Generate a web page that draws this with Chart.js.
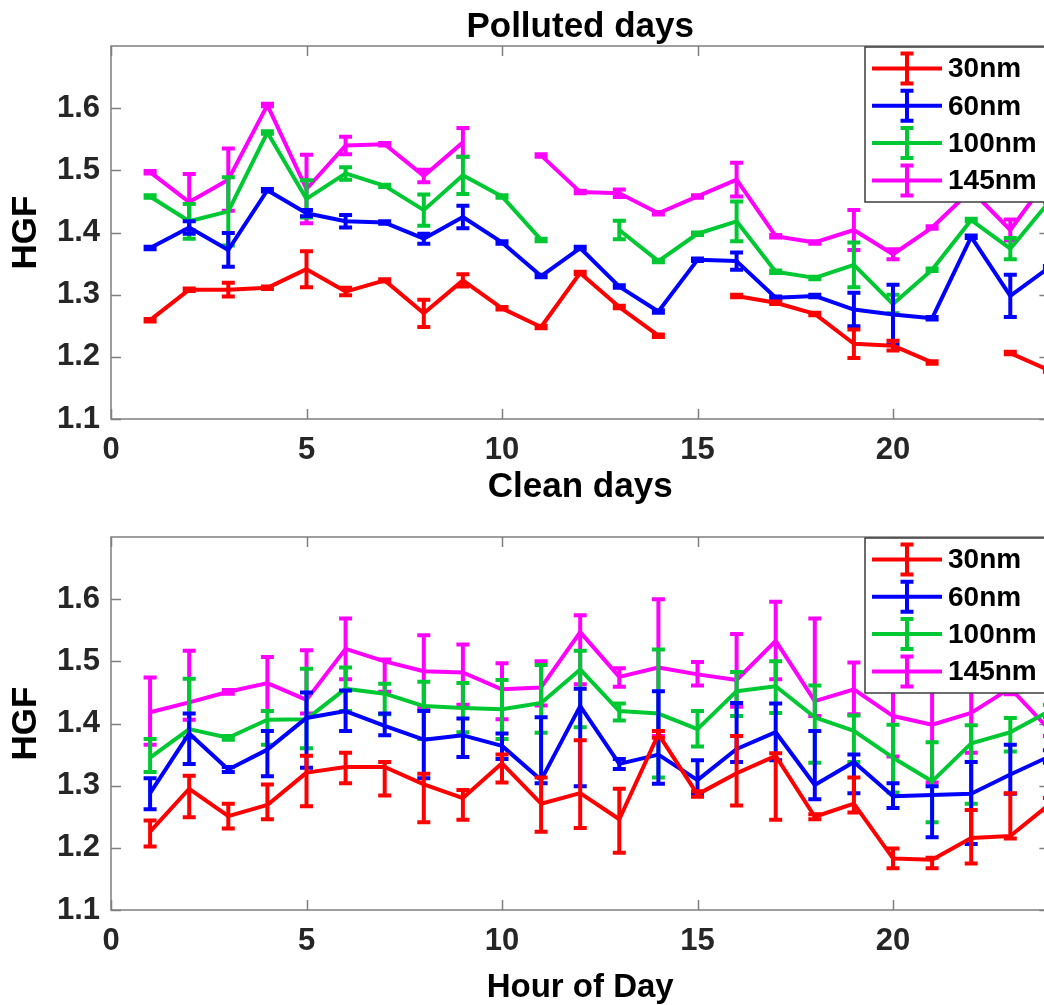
<!DOCTYPE html>
<html>
<head>
<meta charset="utf-8">
<script src="https://cdn.jsdelivr.net/npm/chart.js@4.4.0/dist/chart.umd.min.js"></script>
<style>
  html, body { margin: 0; padding: 0; background: #fff; overflow: hidden; }
  #wrap { position: relative; width: 1060px; height: 1005px; }
  .panel { position: absolute; left: 0; width: 1060px; }
  #top { top: 0; height: 470px; }
  #bottom { top: 460px; height: 545px; }
</style>
</head>
<body>
<div id="wrap">
  <div class="panel" id="top"><canvas id="polluted"></canvas></div>
  <div class="panel" id="bottom"><canvas id="clean"></canvas></div>
</div>
<script>
const hours = [1, 2, 3, 4, 5, 6, 7, 8, 9, 10, 11, 12, 13, 14, 15, 16, 17, 18, 19, 20, 21, 22, 23, 24];
const sizeLabels = ['30nm', '60nm', '100nm', '145nm'];
const lineColors = ['#ff0000', '#0000ff', '#00c832', '#ff00ff'];
const xTickValues = [0, 5, 10, 15, 20];
const yTickValues = [1.1, 1.2, 1.3, 1.4, 1.5, 1.6];

// polluted days: mean HGF and symmetric error
const polluted30 = [1.259, 1.308, 1.308, 1.311, 1.341, 1.305, 1.323, 1.270, 1.323, 1.278, 1.248, 1.335, 1.280, 1.234, null, 1.298, 1.287, 1.269, 1.221, 1.218, 1.191, null, 1.206, 1.178];
const polluted30Err = [0.002, 0.002, 0.011, 0.002, 0.029, 0.006, 0.002, 0.022, 0.010, 0.002, 0.002, 0.002, 0.002, 0.002, null, 0.002, 0.002, 0.002, 0.023, 0.008, 0.002, null, 0.002, 0.002];
const polluted60 = [1.375, 1.408, 1.372, 1.468, 1.431, 1.418, 1.416, 1.390, 1.425, 1.384, 1.330, 1.375, 1.313, 1.273, 1.356, 1.354, 1.295, 1.298, 1.276, 1.268, 1.262, 1.393, 1.298, 1.344];
const polluted60Err = [0.002, 0.010, 0.027, 0.002, 0.005, 0.010, 0.002, 0.008, 0.018, 0.002, 0.002, 0.002, 0.002, 0.002, 0.002, 0.014, 0.002, 0.002, 0.027, 0.048, 0.002, 0.002, 0.034, 0.002];
const polluted100 = [1.458, 1.418, 1.434, 1.561, 1.454, 1.495, 1.475, 1.436, 1.492, 1.458, 1.388, null, 1.404, 1.354, 1.398, 1.418, 1.337, 1.327, 1.348, 1.285, 1.340, 1.420, 1.374, 1.450];
const polluted100Err = [0.002, 0.028, 0.055, 0.002, 0.030, 0.010, 0.002, 0.025, 0.030, 0.002, 0.002, null, 0.015, 0.002, 0.002, 0.032, 0.002, 0.002, 0.036, 0.015, 0.002, 0.002, 0.017, 0.002];
const polluted145 = [1.497, 1.449, 1.485, 1.605, 1.470, 1.540, 1.542, 1.491, 1.545, null, 1.524, 1.465, 1.463, 1.431, 1.458, 1.485, 1.394, 1.384, 1.404, 1.365, 1.408, 1.468, 1.404, 1.490];
const polluted145Err = [0.002, 0.045, 0.050, 0.002, 0.055, 0.014, 0.002, 0.010, 0.023, null, 0.002, 0.002, 0.006, 0.002, 0.002, 0.027, 0.002, 0.002, 0.032, 0.008, 0.002, 0.002, 0.017, 0.002];

// clean days: mean HGF with lower / upper error
const clean30 = [1.226, 1.295, 1.251, 1.269, 1.321, 1.330, 1.330, 1.302, 1.280, 1.336, 1.271, 1.288, 1.246, 1.383, 1.286, 1.320, 1.348, 1.250, 1.271, 1.183, 1.181, 1.216, 1.219, 1.270];
const clean30Low = [0.024, 0.046, 0.020, 0.023, 0.054, 0.026, 0.046, 0.061, 0.035, 0.031, 0.045, 0.056, 0.054, 0.006, 0.004, 0.052, 0.103, 0.004, 0.014, 0.016, 0.014, 0.041, 0.004, 0.010];
const clean30High = [0.018, 0.021, 0.020, 0.033, 0.027, 0.023, 0.008, 0.017, 0.013, 0.014, 0.042, 0.085, 0.049, 0.005, 0.005, 0.060, 0.004, 0.004, 0.042, 0.016, 0.003, 0.045, 0.069, 0.010];
const clean60 = [1.288, 1.384, 1.326, 1.358, 1.409, 1.420, 1.396, 1.374, 1.381, 1.364, 1.309, 1.428, 1.335, 1.350, 1.309, 1.359, 1.386, 1.301, 1.338, 1.283, 1.285, 1.287, 1.318, 1.347];
const clean60Low = [0.026, 0.049, 0.004, 0.043, 0.080, 0.032, 0.015, 0.062, 0.035, 0.021, 0.005, 0.129, 0.008, 0.047, 0.021, 0.021, 0.045, 0.023, 0.050, 0.019, 0.068, 0.081, 0.031, 0.010];
const clean60High = [0.024, 0.032, 0.004, 0.030, 0.041, 0.033, 0.020, 0.046, 0.027, 0.020, 0.101, 0.028, 0.008, 0.102, 0.032, 0.074, 0.046, 0.087, 0.012, 0.021, 0.014, 0.051, 0.048, 0.010];
const clean100 = [1.345, 1.391, 1.377, 1.406, 1.407, 1.456, 1.448, 1.428, 1.425, 1.423, 1.433, 1.487, 1.420, 1.416, 1.391, 1.452, 1.460, 1.410, 1.388, 1.345, 1.307, 1.368, 1.386, 1.420];
const clean100Low = [0.023, 0.014, 0.003, 0.040, 0.047, 0.036, 0.033, 0.053, 0.039, 0.048, 0.048, 0.093, 0.015, 0.103, 0.028, 0.040, 0.043, 0.073, 0.050, 0.056, 0.066, 0.097, 0.031, 0.010];
const clean100High = [0.030, 0.081, 0.003, 0.014, 0.081, 0.034, 0.016, 0.039, 0.040, 0.047, 0.061, 0.030, 0.012, 0.103, 0.029, 0.031, 0.040, 0.051, 0.025, 0.053, 0.063, 0.029, 0.023, 0.010];
const clean145 = [1.418, 1.434, 1.451, 1.465, 1.438, 1.520, 1.500, 1.484, 1.482, 1.455, 1.458, 1.547, 1.475, 1.490, 1.479, 1.470, 1.533, 1.436, 1.455, 1.412, 1.398, 1.417, 1.457, 1.390];
const clean145Low = [0.052, 0.028, 0.003, 0.045, 0.022, 0.049, 0.049, 0.059, 0.052, 0.048, 0.029, 0.084, 0.016, 0.110, 0.018, 0.043, 0.062, 0.024, 0.040, 0.065, 0.093, 0.064, 0.010, 0.010];
const clean145High = [0.056, 0.083, 0.003, 0.042, 0.080, 0.049, 0.003, 0.058, 0.045, 0.042, 0.042, 0.027, 0.014, 0.110, 0.020, 0.074, 0.063, 0.133, 0.043, 0.068, 0.092, 0.063, 0.010, 0.010];

const FONT = "'Liberation Sans', Arial, Helvetica, sans-serif";
Chart.defaults.font.family = FONT;
Chart.defaults.font.weight = 'bold';

// vertical error bars with caps, drawn right after each line so layering follows series order
const errorBars = {
  id: 'errorBars',
  afterDatasetDraw(chart, args) {
    const ds = chart.data.datasets[args.index];
    const {ctx, chartArea: a, scales: {x, y}} = chart;
    ctx.save();
    ctx.beginPath();
    ctx.rect(a.left, a.top, a.right - a.left, a.bottom - a.top);
    ctx.clip();
    ctx.strokeStyle = ds.borderColor;
    ctx.lineWidth = 4;
    ctx.lineCap = 'butt';
    ds.data.forEach((p, i) => {
      if (p.y == null) return;
      const px = x.getPixelForValue(p.x);
      const yLo = y.getPixelForValue(p.y - ds.errMinus[i]);
      const yHi = y.getPixelForValue(p.y + ds.errPlus[i]);
      ctx.beginPath();
      ctx.moveTo(px, yLo); ctx.lineTo(px, yHi);
      ctx.moveTo(px - 6.5, yLo); ctx.lineTo(px + 6.5, yLo);
      ctx.moveTo(px - 6.5, yHi); ctx.lineTo(px + 6.5, yHi);
      ctx.stroke();
    });
    ctx.restore();
  }
};

// box around the axes with inward tick marks
const axesBox = {
  id: 'axesBox',
  beforeDatasetsDraw(chart) {
    const {ctx, chartArea: a, scales: {x, y}} = chart;
    ctx.save();
    ctx.strokeStyle = '#7f7f7f';
    ctx.lineWidth = 1.5;
    ctx.strokeRect(a.left, a.top, a.right - a.left, a.bottom - a.top);
    ctx.beginPath();
    x.ticks.forEach(t => {
      const px = Math.round(x.getPixelForValue(t.value)) + 0.5;
      ctx.moveTo(px, a.bottom); ctx.lineTo(px, a.bottom - 10);
      ctx.moveTo(px, a.top); ctx.lineTo(px, a.top + 10);
    });
    y.ticks.forEach(t => {
      const py = Math.round(y.getPixelForValue(t.value)) + 0.5;
      ctx.moveTo(a.left, py); ctx.lineTo(a.left + 10, py);
      ctx.moveTo(a.right, py); ctx.lineTo(a.right - 10, py);
    });
    ctx.stroke();
    ctx.restore();
  }
};

// legend box in the upper right corner, entries show a line with an error bar
const boxLegend = {
  id: 'boxLegend',
  afterDraw(chart) {
    const {ctx, chartArea: a} = chart;
    const left = a.left + 754, top = a.top + 1;
    ctx.save();
    ctx.fillStyle = '#fff';
    ctx.fillRect(left, top, 190, 155);
    ctx.strokeStyle = '#3c3c3c';
    ctx.lineWidth = 1.5;
    ctx.strokeRect(left, top, 190, 155);
    chart.data.datasets.forEach((ds, i) => {
      const cy = top + 21.5 + i * 37.3;
      ctx.strokeStyle = ds.borderColor;
      ctx.lineWidth = 4;
      ctx.beginPath();
      ctx.moveTo(left + 7, cy); ctx.lineTo(left + 77, cy);
      ctx.moveTo(left + 42, cy - 15); ctx.lineTo(left + 42, cy + 15);
      ctx.moveTo(left + 35.5, cy - 15); ctx.lineTo(left + 48.5, cy - 15);
      ctx.moveTo(left + 35.5, cy + 15); ctx.lineTo(left + 48.5, cy + 15);
      ctx.stroke();
      ctx.fillStyle = '#000';
      ctx.font = 'bold 28px ' + FONT;
      ctx.textBaseline = 'middle';
      ctx.textAlign = 'left';
      ctx.fillText(ds.label, left + 83, cy + 1);
    });
    ctx.restore();
  }
};

function makeChart(canvasId, title, titlePadding, xHeight, xTitle, series) {
  return new Chart(document.getElementById(canvasId), {
    type: 'line',
    data: {
      datasets: series.map((s, k) => ({
        label: sizeLabels[k],
        data: hours.map((h, i) => ({x: h, y: s.values[i]})),
        errMinus: s.minus,
        errPlus: s.plus,
        borderColor: lineColors[k],
        backgroundColor: lineColors[k],
        borderWidth: 4,
        borderJoinStyle: 'round',
        pointRadius: 0,
        tension: 0,
        spanGaps: false
      }))
    },
    options: {
      responsive: true,
      maintainAspectRatio: false,
      animation: false,
      layout: {padding: {left: 0, right: 10.6, top: 0, bottom: 0}},
      plugins: {
        legend: {display: false},
        tooltip: {enabled: false},
        title: {
          display: true,
          text: title,
          fullSize: false,
          color: '#000',
          font: {size: 35, weight: 'bold', lineHeight: 1},
          padding: titlePadding
        }
      },
      scales: {
        x: {
          type: 'linear',
          min: 0,
          max: 24,
          afterBuildTicks: s => { s.ticks = xTickValues.map(v => ({value: v})); },
          afterFit: s => { s.height = xHeight; },
          grid: {display: false, drawTicks: false},
          border: {display: false},
          ticks: {
            padding: 16,
            color: '#262626',
            maxRotation: 0,
            autoSkip: false,
            font: {size: 31, weight: 'bold', lineHeight: 1},
            callback: v => String(v)
          },
          title: {
            display: !!xTitle,
            text: xTitle || '',
            color: '#000',
            font: {size: 33, weight: 'bold', lineHeight: 1},
            padding: {top: 0, bottom: 0.5}
          }
        },
        y: {
          min: 1.1,
          max: 1.7,
          afterBuildTicks: s => { s.ticks = yTickValues.map(v => ({value: v})); },
          afterFit: s => { s.width = 111; },
          grid: {display: false, drawTicks: false},
          border: {display: false},
          ticks: {
            padding: 11,
            color: '#262626',
            font: {size: 31, weight: 'bold', lineHeight: 1},
            callback: v => v.toFixed(1)
          },
          title: {
            display: true,
            text: 'HGF',
            color: '#000',
            font: {size: 35, weight: 'bold', lineHeight: 1},
            padding: {top: 8.5, bottom: 0}
          }
        }
      }
    },
    plugins: [axesBox, errorBars, boxLegend]
  });
}

makeChart('polluted', 'Polluted days', {top: 9.5, bottom: 1.5}, 51, null, [
  {values: polluted30, minus: polluted30Err, plus: polluted30Err},
  {values: polluted60, minus: polluted60Err, plus: polluted60Err},
  {values: polluted100, minus: polluted100Err, plus: polluted100Err},
  {values: polluted145, minus: polluted145Err, plus: polluted145Err}
]);

makeChart('clean', 'Clean days', {top: 9.5, bottom: 32.5}, 95, 'Hour of Day', [
  {values: clean30, minus: clean30Low, plus: clean30High},
  {values: clean60, minus: clean60Low, plus: clean60High},
  {values: clean100, minus: clean100Low, plus: clean100High},
  {values: clean145, minus: clean145Low, plus: clean145High}
]);
</script>
</body>
</html>
